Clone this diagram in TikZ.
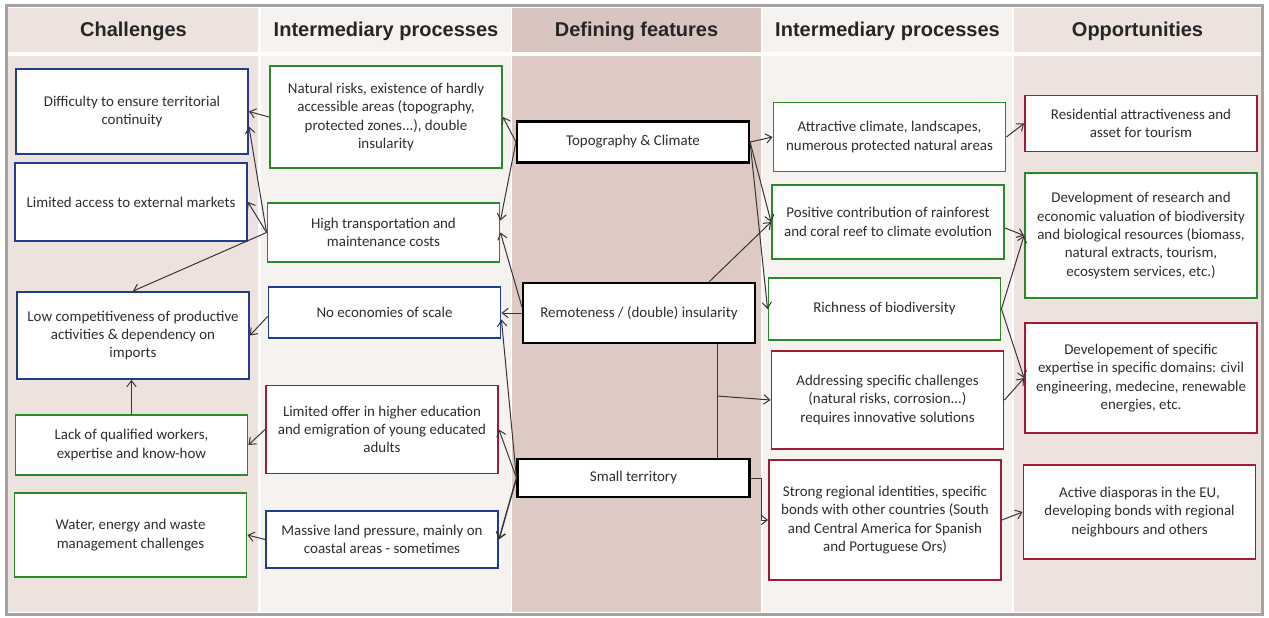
\documentclass[tikz,border=0pt]{standalone}
\usepackage{fontspec}
\setmainfont{Carlito}
\newfontfamily\headfont{Liberation Sans}
\usepackage{tikz}
\usetikzlibrary{arrows.meta}
\definecolor{boxblue}{HTML}{1F3D8C}
\definecolor{boxgreen}{HTML}{2A8A2A}
\definecolor{boxred}{HTML}{9E1C36}
\definecolor{colouter}{HTML}{EEE2DF}
\definecolor{colinner}{HTML}{F6F2F0}
\definecolor{colmid}{HTML}{DDCAC5}
\definecolor{colmidhead}{HTML}{D9C5C0}
\definecolor{framegray}{HTML}{A3A3A3}
\definecolor{textgray}{HTML}{2E2E2E}
\definecolor{linkgray}{HTML}{363636}
\newlength{\unitpx}
\setlength{\unitpx}{0.75pt}

\begin{document}
\begin{tikzpicture}[x=0.75pt,y=-0.75pt,
    every node/.style={font=\fontsize{11.2}{13.7}\selectfont,text=textgray,align=center},
    cell/.style={draw=#1,fill=white,line width=1.4pt,minimum width=232\unitpx,inner sep=2pt},
    tall/.style={minimum height=#1\unitpx},
    feature/.style={draw=black,fill=white,line width=1.6pt,minimum width=232\unitpx,inner sep=2pt},
    header/.style={font=\headfont\bfseries\fontsize{15}{18}\selectfont,text=black!85},
    link/.style={linkgray,line width=0.75pt},
    arrow/.style={link,-{Straight Barb[length=4.5pt,width=7pt]}}
  ]
    \useasboundingbox (0,0) rectangle (1269,617);
    \fill[white] (0,0) rectangle (1269,617);
    \draw[framegray,line width=2.25pt] (6.5,6) rectangle (1262,614);
    \fill[colouter] (8,8) rectangle (258,52);
    \fill[colouter] (8,56) rectangle (258,612);
    \fill[colinner] (261,8) rectangle (511,52);
    \fill[colinner] (261,56) rectangle (511,612);
    \fill[colmidhead] (512,8) rectangle (761,52);
    \fill[colmid] (512,56) rectangle (761,612);
    \fill[colinner] (763,8) rectangle (1012,52);
    \fill[colinner] (763,56) rectangle (1012,612);
    \fill[colouter] (1014,8) rectangle (1261,52);
    \fill[colouter] (1014,56) rectangle (1261,612);

    \node[header] (hchal) at (133.5,31) {Challenges};
    \node[header] (hintl) at (386,31) {Intermediary processes};
    \node[header] (hdef) at (636.5,31) {Defining features};
    \node[header] (hintr) at (887.5,31) {Intermediary processes};
    \node[header] (hopp) at (1137.5,31) {Opportunities};

    \node[cell=boxblue,tall=85] (terr) at (132,111.5) {Difficulty to ensure territorial\\continuity};
    \node[cell=boxblue,tall=78] (markets) at (131,202) {Limited access to external markets};
    \node[cell=boxblue,tall=87] (compet) at (133,335.5) {%
      Low competitiveness of productive\\activities \& dependency on\\imports};
    \node[cell=boxgreen,tall=60] (workers) at (131.5,445) {Lack of qualified workers,\\expertise and know-how};
    \node[cell=boxgreen,tall=84] (water) at (130.5,535) {Water, energy and waste\\management challenges};

    \node[cell=boxgreen,tall=102] (risks) at (386,117) {%
      Natural risks, existence of hardly\\accessible areas (topography,\\protected zones...), double\\insularity};
    \node[cell=boxgreen,tall=59] (costs) at (383.5,232.5) {High transportation and\\maintenance costs};
    \node[cell=boxblue,tall=51] (scale) at (384.5,312.5) {No economies of scale};
    \node[cell=boxred,tall=88] (educ) at (382,429.5) {%
      Limited offer in higher education\\and emigration of young educated\\adults};
    \node[cell=boxblue,tall=57] (land) at (382,539.5) {Massive land pressure, mainly on\\coastal areas - sometimes};

    \node[feature,tall=41] (topo) at (633,142) {Topography \& Climate};
    \node[feature,tall=60] (remote) at (639,313) {Remoteness / (double) insularity};
    \node[feature,tall=38] (small) at (633.5,478) {Small territory};

    \node[cell=boxgreen,tall=69] (climate) at (889.5,137) {Attractive climate, landscapes,\\numerous protected natural areas};
    \node[cell=boxgreen,tall=74] (reef) at (888,222) {%
      Positive contribution of rainforest\\and coral reef to climate evolution};
    \node[cell=boxgreen,tall=62] (biodiv) at (884.5,309) {Richness of biodiversity};
    \node[cell=boxred,tall=98] (innov) at (887.5,400) {%
      Addressing specific challenges\\(natural risks, corrosion...)\\requires innovative solutions};
    \node[cell=boxred,tall=120] (ident) at (885,520) {%
      Strong regional identities, specific\\bonds with other countries (South\\and Central America for Spanish\\and Portuguese Ors)};

    \node[cell=boxred,tall=56] (tourism) at (1141,123.5) {Residential attractiveness and\\asset for tourism};
    \node[cell=boxgreen,tall=125] (research) at (1141,235.5) {%
      Development of research and\\economic valuation of biodiversity\\and biological resources (biomass,\\natural extracts, tourism,\\ecosystem services, etc.)};
    \node[cell=boxred,tall=110] (expert) at (1141,378) {%
      Developement of specific\\expertise in specific domains: civil\\engineering, medecine, renewable\\energies, etc.};
    \node[cell=boxred,tall=94] (diaspora) at (1139.5,512) {%
      Active diasporas in the EU,\\developing bonds with regional\\neighbours and others};

    \draw[arrow] (risks.west) -- (terr.east);
    \draw[arrow] (costs.west) -- ([yshift=-15\unitpx]terr.east);
    \draw[arrow] (costs.west) -- (markets.east);
    \draw[arrow] (costs.west) -- (compet.north);
    \draw[arrow] ([yshift=-4\unitpx]scale.west) -- (compet.east);
    \draw[arrow] (workers.north) -- (workers.north |- compet.south);
    \draw[arrow] (educ.west) -- (workers.east);
    \draw[arrow] (land.west) -- (water.east);

    \draw[arrow] (topo.west) -- (risks.east);
    \draw[arrow] (topo.west) -- ([yshift=12\unitpx]costs.east);
    \draw[arrow] ([yshift=6\unitpx]remote.west) -- (costs.east);
    \draw[arrow] (remote.west) -- (remote.west -| scale.east);
    \draw[arrow] (small.west) -- ([yshift=-7\unitpx]scale.east);
    \draw[arrow] (small.west) -- (educ.east);
    \draw[arrow,line width=1.1pt] (small.west) -- (land.east);

    \draw[arrow] (topo.east) -- (climate.west);
    \draw[arrow] (topo.east) -- (reef.west);
    \draw[arrow] (topo.east) -- (biodiv.west);
    \draw[arrow] ([xshift=70\unitpx]remote.north) -- (reef.west);
    \draw[link] ([xshift=78\unitpx]remote.south) -- ([xshift=78\unitpx]remote.south |- small.north);
    \coordinate (fork) at (717,396);
    \draw[arrow] (fork) -- (innov.west);
    \draw[arrow] (small.east) -- ++(11,0) |- (ident.west);

    \draw[arrow] (climate.east) -- (tourism.west);
    \draw[arrow] ([yshift=-6\unitpx]reef.east) -- (research.west);
    \draw[arrow] (biodiv.east) -- (research.west);
    \draw[arrow] (biodiv.east) -- (expert.west);
    \draw[arrow] (innov.east) -- (expert.west);
    \draw[arrow] (ident.east) -- (diaspora.west);
  \end{tikzpicture}
\end{document}
